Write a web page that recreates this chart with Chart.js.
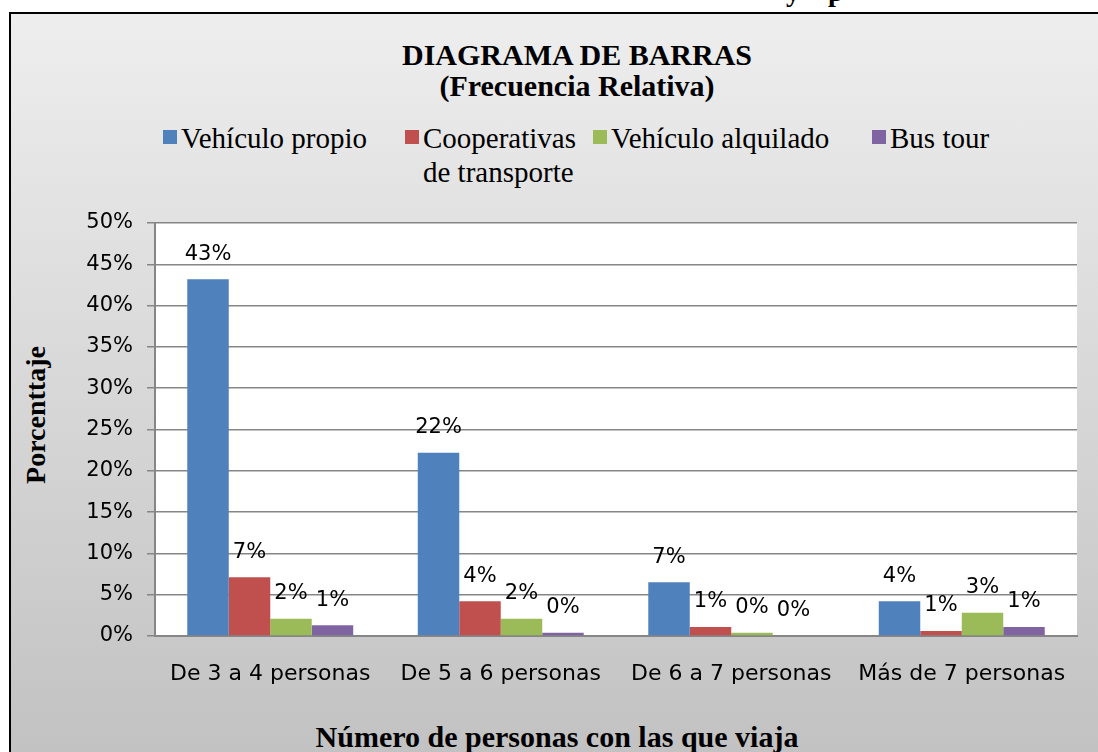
<!DOCTYPE html>
<html>
<head>
<meta charset="utf-8">
<script src="https://cdn.jsdelivr.net/npm/chart.js@4.4.1/dist/chart.umd.min.js"></script>
<style>
  html, body { margin:0; padding:0; width:1098px; height:752px; overflow:hidden; background:#fff; }
  #frame {
    position:absolute; left:9px; top:12px; width:1140px; height:760px;
    border:2px solid #000; box-sizing:border-box;
    background:linear-gradient(#eeeeee, #c1c1c1);
  }
  #chart { position:absolute; left:12px; top:14px; }
  .serif { font-family:"Liberation Serif","Times New Roman",serif; color:#000; position:absolute; white-space:nowrap; }
  #title { left:577px; top:39px; transform:translateX(-50%); text-align:center; font-weight:bold; font-size:30px; line-height:31px; }
  #legend { left:0; top:121px; font-size:29px; line-height:34px; }
  #legend .item { position:absolute; top:0; }
  #legend .box { position:absolute; left:0; top:9px; width:14px; height:14px; }
  #legend .txt { position:absolute; left:18px; top:0; }
  #ytitle { left:36px; top:415px; font-weight:bold; font-size:28px; transform:translate(-50%,-50%) rotate(-90deg); }
  #xtitle { left:557px; top:721px; transform:translateX(-50%); font-weight:bold; font-size:30px; line-height:31px; }
  #cut { left:786px; top:-24px; font-weight:bold; font-size:28px; }
</style>
</head>
<body>
<div id="frame"></div>
<div id="cut" class="serif">y&nbsp;&nbsp;&nbsp;&nbsp;p</div>
<div id="title" class="serif">DIAGRAMA DE BARRAS<br>(Frecuencia Relativa)</div>
<div id="legend" class="serif"></div>
<div id="ytitle" class="serif">Porcenttaje</div>
<div id="xtitle" class="serif">Número de personas con las que viaja</div>
<canvas id="chart" width="1130" height="740"></canvas>
<script>
// ---- 資料 ----
const categories = ['De 3 a 4 personas', 'De 5 a 6 personas', 'De 6 a 7 personas', 'Más de 7 personas'];
const seriesNames = ['Vehículo propio', 'Cooperativas\nde transporte', 'Vehículo alquilado', 'Bus tour'];
const seriesColors = ['#4F81BD', '#C0504D', '#9BBB59', '#8064A2'];
const vehiculoPropio = [43.2, 22.2, 6.5, 4.2];
const cooperativas   = [7.1, 4.2, 1.1, 0.6];
const alquilado      = [2.1, 2.1, 0.4, 2.8];
const busTour        = [1.3, 0.4, 0.0, 1.1];
const yTicks = [0, 5, 10, 15, 20, 25, 30, 35, 40, 45, 50];

const seriesValues = [vehiculoPropio, cooperativas, alquilado, busTour];

// ---- 圖例 (HTML)，每項的左邊位置 ----
const legendLeft = [163, 405, 593, 872];
const legendEl = document.getElementById('legend');
seriesNames.forEach((name, i) => {
  const item = document.createElement('div');
  item.className = 'item';
  item.style.left = legendLeft[i] + 'px';
  item.innerHTML = `<div class="box" style="background:${seriesColors[i]}"></div>
    <div class="txt">${name.replace('\n', '<br>')}</div>`;
  legendEl.appendChild(item);
});

// ---- 繪圖區白底 ----
const plotBg = {
  id: 'plotBg',
  beforeDraw(chart) {
    const a = chart.chartArea, ctx = chart.ctx;
    ctx.save();
    ctx.fillStyle = '#fff';
    ctx.fillRect(a.left, a.top, a.right - a.left, a.bottom - a.top);
    ctx.restore();
  }
};

// ---- 資料標籤 ----
const barLabels = {
  id: 'barLabels',
  afterDatasetsDraw(chart) {
    const ctx = chart.ctx;
    ctx.save();
    ctx.font = '21px "DejaVu Sans"';
    ctx.fillStyle = '#000';
    ctx.textAlign = 'center';
    ctx.textBaseline = 'middle';
    chart.data.datasets.forEach((ds, i) => {
      chart.getDatasetMeta(i).data.forEach((bar, j) => {
        ctx.fillText(Math.round(ds.data[j]) + '%', bar.x, bar.y - 25);
      });
    });
    ctx.restore();
  }
};

new Chart(document.getElementById('chart'), {
  type: 'bar',
  data: {
    labels: categories,
    datasets: seriesValues.map((vals, i) => ({
      label: seriesNames[i],
      data: vals,
      backgroundColor: seriesColors[i],
      categoryPercentage: 0.72,
      barPercentage: 1
    }))
  },
  options: {
    responsive: false,
    animation: false,
    layout: { padding: { top: 209, right: 65, left: 0, bottom: 0 } },
    plugins: { legend: { display: false }, title: { display: false }, tooltip: { enabled: false } },
    scales: {
      x: {
        grid: { display: false, drawTicks: false },
        border: { display: true, color: '#868686', width: 2 },
        ticks: { color: '#000', font: { family: 'DejaVu Sans', size: 22 }, padding: 25, maxRotation: 0 },
        afterFit(scale) { scale.height = 118; }
      },
      y: {
        min: 0, max: 50,
        afterBuildTicks(scale) { scale.ticks = yTicks.map(v => ({ value: v })); },
        grid: { color: '#868686', lineWidth: 1.5, tickLength: 8 },
        border: { display: true, color: '#868686', width: 2 },
        ticks: { color: '#000', font: { family: 'DejaVu Sans', size: 21 }, padding: 14,
          callback: v => v + '%' },
        afterFit(scale) { scale.width = 143; }
      }
    }
  },
  plugins: [plotBg, barLabels]
});
</script>
</body>
</html>
